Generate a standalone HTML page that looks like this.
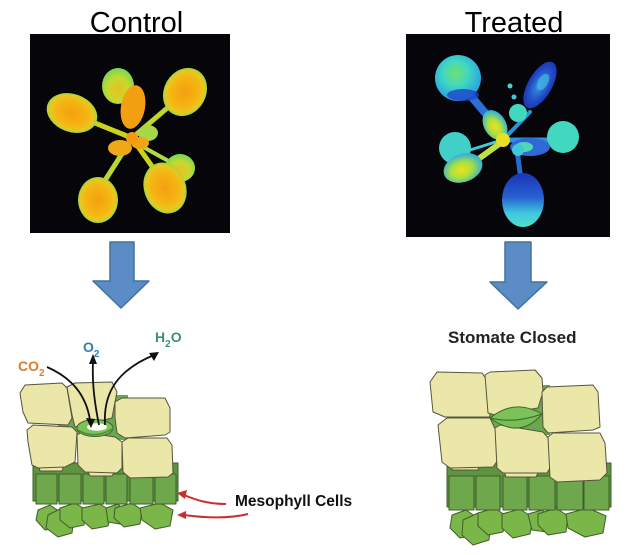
<!DOCTYPE html>
<html><head><meta charset="utf-8"><style>
html,body{margin:0;padding:0;background:#fff;}
svg{display:block;}
text{font-family:"Liberation Sans",Arial,sans-serif;}
</style></head><body>
<svg width="636" height="555" viewBox="0 0 636 555" xmlns="http://www.w3.org/2000/svg">
<defs>
<radialGradient id="lf" cx="50%" cy="50%" r="50%">
<stop offset="0" stop-color="#f4a010"/><stop offset="0.6" stop-color="#f5b412"/><stop offset="0.88" stop-color="#e8c820"/><stop offset="1" stop-color="#9ad640"/>
</radialGradient>
<radialGradient id="lfg" cx="50%" cy="60%" r="55%">
<stop offset="0" stop-color="#e8c020"/><stop offset="0.6" stop-color="#c8d830"/><stop offset="1" stop-color="#80d850"/>
</radialGradient>
<radialGradient id="tc" cx="45%" cy="40%" r="55%">
<stop offset="0" stop-color="#70e070"/><stop offset="0.5" stop-color="#40d8c0"/><stop offset="1" stop-color="#2aa8e0"/>
</radialGradient>
<radialGradient id="tb" cx="50%" cy="50%" r="55%">
<stop offset="0" stop-color="#3a9ae0"/><stop offset="0.6" stop-color="#2450c8"/><stop offset="1" stop-color="#1a30b0"/>
</radialGradient>
<radialGradient id="ty" cx="45%" cy="55%" r="55%">
<stop offset="0" stop-color="#f0e020"/><stop offset="0.5" stop-color="#a8e040"/><stop offset="1" stop-color="#30b0e0"/>
</radialGradient>
<linearGradient id="tbot" x1="0" y1="0" x2="0" y2="1">
<stop offset="0" stop-color="#1a34b8"/><stop offset="0.45" stop-color="#2860d0"/><stop offset="0.75" stop-color="#40c8e0"/><stop offset="1" stop-color="#50e0c8"/>
</linearGradient>
</defs>

<!-- Titles -->
<text x="136.5" y="32" font-size="29" text-anchor="middle" fill="#000">Control</text>
<text x="514" y="32" font-size="29" text-anchor="middle" fill="#000">Treated</text>

<!-- Control image -->
<rect x="30" y="34" width="200" height="199" fill="#05050a"/>
<g stroke-linecap="round">
<line x1="132" y1="138" x2="90" y2="121" stroke="#c8d41a" stroke-width="5"/>
<line x1="132" y1="138" x2="172" y2="104" stroke="#c0d828" stroke-width="5"/>
<line x1="132" y1="138" x2="104" y2="182" stroke="#b8d830" stroke-width="5"/>
<line x1="132" y1="138" x2="156" y2="172" stroke="#c8d41a" stroke-width="5"/>
<line x1="136" y1="143" x2="172" y2="163" stroke="#b0dc40" stroke-width="4"/>
</g>
<ellipse cx="118" cy="86" rx="16" ry="18" fill="url(#lfg)"/>
<ellipse cx="180" cy="168" rx="15" ry="14" fill="url(#lfg)"/>
<ellipse cx="72" cy="113" rx="26" ry="19" transform="rotate(20 72 113)" fill="url(#lf)"/>
<ellipse cx="185" cy="92" rx="21" ry="25" transform="rotate(30 185 92)" fill="url(#lf)"/>
<ellipse cx="98" cy="200" rx="20" ry="23" fill="url(#lf)"/>
<ellipse cx="165" cy="188" rx="21" ry="26" transform="rotate(-20 165 188)" fill="url(#lf)"/>
<ellipse cx="133" cy="107" rx="12" ry="22" transform="rotate(10 133 107)" fill="#f2a012"/>
<ellipse cx="148" cy="133" rx="10" ry="8" fill="#a8d848"/>
<ellipse cx="120" cy="148" rx="12" ry="8" fill="#f0a818"/>
<ellipse cx="140" cy="143" rx="9" ry="6" fill="#f3a414"/>
<circle cx="132" cy="138" r="6" fill="#f49a10"/>

<!-- Treated image -->
<rect x="406" y="34" width="204" height="203" fill="#05050a"/>
<g stroke-linecap="round">
<line x1="470" y1="95" x2="497" y2="127" stroke="#2a70d8" stroke-width="8"/>
<line x1="503" y1="140" x2="530" y2="112" stroke="#3090d8" stroke-width="4"/>
<line x1="470" y1="150" x2="502" y2="140" stroke="#40c8d8" stroke-width="3"/>
<line x1="470" y1="165" x2="502" y2="142" stroke="#c0e040" stroke-width="6"/>
<line x1="517" y1="150" x2="521" y2="180" stroke="#2a6ad0" stroke-width="5"/>
<line x1="505" y1="140" x2="548" y2="140" stroke="#3090d8" stroke-width="5"/>
</g>
<circle cx="458" cy="78" r="23" fill="url(#tc)"/>
<ellipse cx="463" cy="95" rx="16" ry="6" fill="#1f45c8" opacity="0.8"/>
<ellipse cx="540" cy="85" rx="12" ry="26" transform="rotate(30 540 85)" fill="url(#tb)"/>
<ellipse cx="543" cy="82" rx="5" ry="9" transform="rotate(30 543 82)" fill="#40b8e0" opacity="0.7"/>
<circle cx="510" cy="86" r="2.5" fill="#40d8d0"/>
<circle cx="514" cy="97" r="2.5" fill="#40c8d0"/>
<circle cx="518" cy="113" r="9" fill="#40d8c0"/>
<ellipse cx="495" cy="125" rx="11" ry="16" transform="rotate(-30 495 125)" fill="url(#ty)"/>
<circle cx="563" cy="137" r="16" fill="#42d8c0"/>
<ellipse cx="530" cy="147" rx="20" ry="9" fill="#3068d8"/>
<ellipse cx="524" cy="147" rx="9" ry="5" fill="#50d8b0"/>
<circle cx="455" cy="148" r="16" fill="#40d0c8"/>
<ellipse cx="463" cy="168" rx="20" ry="14" transform="rotate(-20 463 168)" fill="url(#ty)"/>
<circle cx="503" cy="140" r="7" fill="#e8e020"/>
<circle cx="518" cy="150" r="6" fill="#40c8d8"/>
<ellipse cx="523" cy="200" rx="21" ry="27" fill="url(#tbot)"/>

<!-- Blue arrows -->
<polygon points="110,242 134,242 134,281 149,281 121,308 93,281 110,281" fill="#5b8cc5" stroke="#41719c" stroke-width="1.5" stroke-linejoin="round"/>
<polygon points="505,242 531,242 531,282 547,282 518,309 490,282 505,282" fill="#5b8cc5" stroke="#41719c" stroke-width="1.5" stroke-linejoin="round"/>

<!-- LEFT DIAGRAM -->
<g stroke="#3f5f2a" stroke-width="1" stroke-linejoin="round">
<rect x="58" y="395" width="70" height="45" fill="#6aa84f" stroke="none"/>
<rect x="33" y="463" width="145" height="38" fill="#5e9440"/>
<g fill="#7ab648">
<polygon points="38,510 50,505 60,512 58,528 45,530 36,520"/>
<polygon points="48,515 62,508 74,518 72,533 58,537 46,528"/>
<polygon points="60,508 75,503 86,510 84,525 70,528 60,520"/>
<polygon points="82,508 100,504 112,512 108,526 92,529 82,520"/>
<polygon points="106,508 118,504 126,512 120,524 108,522"/>
<polygon points="115,508 132,503 142,510 140,524 124,527 114,518"/>
<polygon points="140,508 160,503 173,510 170,526 155,529 142,520"/>
</g>
<g fill="#6fa84c">
<rect x="36" y="474" width="21" height="30"/>
<rect x="59" y="474" width="22" height="30"/>
<rect x="83" y="474" width="21" height="30"/>
<rect x="106" y="474" width="21" height="30"/>
<rect x="130" y="474" width="23" height="30"/>
<rect x="155" y="474" width="21" height="30"/>
</g>
</g>
<g fill="#ebe7a8" stroke="#55553f" stroke-width="1" stroke-linejoin="round">
<polygon points="38,462 65,462 62,471 40,471"/>
<polygon points="86,468 116,469 112,476 90,476"/>
<polygon points="27,430 33,425 72,427 77,432 75,462 65,467 38,468 32,465 28,442"/>
<polygon points="77,435 82,432 115,437 122,442 122,468 117,473 85,472 78,465"/>
<polygon points="122,442 128,438 167,438 172,445 173,473 168,477 130,478 123,472"/>
<polygon points="20,393 25,385 62,383 67,388 72,418 68,425 28,423 23,412"/>
<polygon points="67,387 75,383 112,382 117,392 115,402 112,418 75,427 72,415"/>
<polygon points="115,402 122,398 165,398 170,408 170,432 165,435 125,438 117,433 115,418"/>
</g>
<ellipse cx="95" cy="428" rx="18" ry="8.5" fill="#7cc25a" stroke="#3f6a2a" stroke-width="1"/>
<ellipse cx="97" cy="427" rx="10" ry="3.8" fill="#ffffff"/>
<path d="M78,430 Q95,440 112,429" fill="none" stroke="#4f8a35" stroke-width="1.5"/>

<!-- gas arrows -->
<g fill="none" stroke="#111" stroke-width="1.8">
<path d="M47,367 C72,378 86,395 90,420"/>
<path d="M99,425 C95,405 92,385 93,362"/>
<path d="M105,425 C103,392 118,370 154,355"/>
</g>
<g fill="#111">
<polygon points="91,428 86,418 95,419"/>
<polygon points="93,354 89,364 97,364"/>
<polygon points="159,352 149,353 154,361"/>
</g>
<text x="18" y="371" font-size="14" font-weight="bold" fill="#e07a2e">CO<tspan font-size="10" dy="5">2</tspan></text>
<text x="83" y="352" font-size="14" font-weight="bold" fill="#2b7fc0">O<tspan font-size="10" dy="5">2</tspan></text>
<text x="155" y="342" font-size="14" font-weight="bold" fill="#3d8f70">H<tspan font-size="10" dy="5">2</tspan><tspan dy="-5">O</tspan></text>

<!-- red arrows -->
<g fill="none" stroke="#c9302c" stroke-width="2">
<path d="M226,504 C208,504 196,500 184,495"/>
<path d="M248,514 C228,519 206,518 184,515"/>
</g>
<g fill="#c9302c">
<polygon points="177,493 187,490 185,499"/>
<polygon points="177,515 186,511 186,519"/>
</g>
<text x="235" y="506" font-size="15.5" font-weight="bold" fill="#111">Mesophyll Cells</text>

<!-- RIGHT DIAGRAM -->
<text x="448" y="343" font-size="17" font-weight="bold" fill="#222">Stomate Closed</text>
<g stroke="#3f5f2a" stroke-width="1" stroke-linejoin="round">
<rect x="480" y="385" width="70" height="50" fill="#6aa84f" stroke="none"/>
<rect x="447" y="463" width="164" height="44" fill="#5e9440"/>
<g fill="#7ab648">
<polygon points="452,515 466,510 478,518 475,535 460,538 450,528"/>
<polygon points="463,520 478,513 491,523 489,540 473,545 462,535"/>
<polygon points="478,513 495,508 506,516 503,532 488,535 478,526"/>
<polygon points="502,514 520,509 533,518 530,534 513,538 502,528"/>
<polygon points="528,514 542,510 552,518 547,532 532,530"/>
<polygon points="538,514 556,508 568,516 566,532 548,535 538,525"/>
<polygon points="566,514 588,508 606,516 603,533 585,537 568,528"/>
</g>
<g fill="#6fa84c">
<rect x="449" y="476" width="25" height="34"/>
<rect x="476" y="476" width="24" height="34"/>
<rect x="503" y="476" width="24" height="34"/>
<rect x="529" y="476" width="26" height="34"/>
<rect x="557" y="476" width="26" height="34"/>
<rect x="584" y="476" width="25" height="34"/>
</g>
</g>
<g fill="#ebe7a8" stroke="#55553f" stroke-width="1" stroke-linejoin="round">
<polygon points="450,462 480,461 478,470 452,470"/>
<polygon points="503,468 540,469 536,477 506,477"/>
<polygon points="438,425 447,418 490,418 497,433 498,460 493,467 450,468 442,462"/>
<polygon points="495,428 500,425 543,432 550,440 550,468 547,473 503,473 497,468"/>
<polygon points="548,437 553,433 600,433 605,443 607,473 600,480 557,482 550,477"/>
<polygon points="430,382 437,372 482,373 487,380 490,417 445,417 433,412"/>
<polygon points="485,375 490,372 535,370 542,378 543,392 538,408 495,415 488,413"/>
<polygon points="542,392 547,387 593,385 598,392 600,427 593,430 548,433 543,427"/>
</g>
<path d="M490,418 Q515,398 542,414 Q515,424 490,418 Z" fill="#7cc25a" stroke="#3f6a2a" stroke-width="1"/>
<path d="M490,418 Q515,424 542,414 Q520,440 490,418 Z" fill="#78be56" stroke="#3f6a2a" stroke-width="1"/>
</svg>
</body></html>
